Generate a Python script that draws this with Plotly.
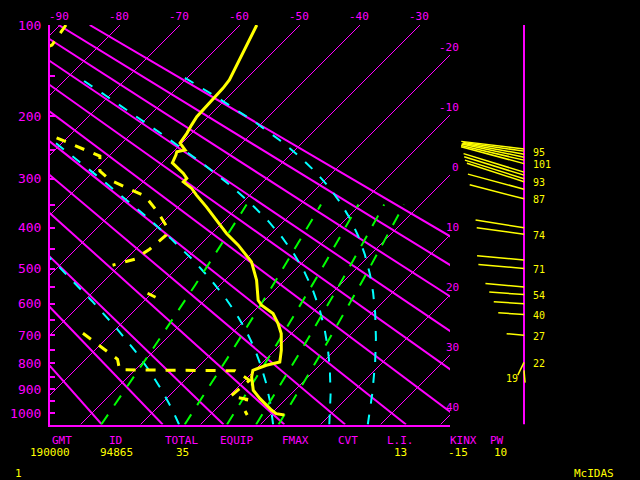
import numpy as np
import plotly.graph_objects as go

# ---------------- data ----------------
# Temperature sounding: pressure (hPa), temperature (degC)
T_P = [100, 111.6, 127.5, 141.3, 154.3, 164.0, 176.3, 187.9, 200.6, 212.3, 224.4, 239.3,
       250.4, 253.2, 258.6, 271.6, 278.5, 290.2, 299.3, 305.6, 318.1, 331.1, 354.8, 383.2,
       413.1, 440.8, 469.9, 482.7, 531.7, 589.2, 604.3, 629.8, 661.6, 694.6, 752.2, 794.6,
       806.8, 825.7, 851.3, 904.0, 938.1, 958.9, 987.5, 1001.9, 1008]
T_C = [-57.2, -56.1, -54.7, -53.6, -52.6, -52.3, -52.2, -52.1, -51.9, -51.4, -50.8, -50.3,
       -48.3, -49.4, -49.0, -48.3, -46.9, -44.7, -43.3, -43.3, -40.8, -38.9, -35.3, -31.4,
       -27.5, -23.6, -20.0, -18.6, -14.7, -11.1, -9.7, -6.4, -3.9, -1.7, 1.1, 2.8,
       1.1, -0.3, 0.6, 3.1, 5.6, 7.2, 9.5, 10.8, 12.4]

# Dewpoint sounding: pressure (hPa), dewpoint (degC); None = missing levels
TD_P = [100, 117.8, 178.5, 227.0, 260.3, 286.1, 302.4, 333.1, 365.9, 401.0, 417.1, 450.7,
        475.7, 491.3, None, 568.6, 580.3, None, 693.6, 752.2, 784.6, 823.7, 827.5, 864.2,
        928.5, 940.9, 987.5, 1008]
TD_C = [-89.0, -88.0, -100, -73.3, -61.5, -59.0, -55.8, -47.3, -42.5, -38.2, -37.3, -37.7,
        -38.5, -41.2, None, -30.7, -28.7, None, -34.8, -28.3, -24.7, -22.6, -3.2, 0.8,
        0.3, 3.5, 5.0, 6.2]

# Winds: pressure (hPa), direction (deg), speed (kt), printed speed label
WIND_P = [248.8, 252.1, 257.1, 262.2, 267.0, 273.0, 287.9, 293.3, 299.9, 305.5, 319.5, 338.5,
          400, 415.1, 477.5, 500, 550.5, 572.4, 600, 632.9, 700, 796, 826]
WIND_DIR = [277, 278, 280, 282, 283, 285, 287, 287, 287.5, 288, 285, 284.6,
            279, 278, 275, 275, 275, 274, 274, 274, 275, 206, 175]
WIND_SPD = [98, 95, 97, 99, 100, 101, 98, 97, 96, 93, 90, 87,
            76, 74, 73, 71, 60, 54, 47, 40, 27, 22, 19]
WIND_LABEL = ["", "95", "", "", "", "101", "", "", "", "93", "", "87",
              "", "74", "", "71", "", "54", "", "40", "27", "22", "19"]

# Background lines of the diagram
PRESSURE_LABELS = [100, 200, 300, 400, 500, 600, 700, 800, 900, 1000]
PRESSURE_MINOR = [150, 250, 350, 450, 550, 650, 750, 850, 950]
ISOTHERMS = list(range(-90, 41, 10))          # degC
DRY_ADIABATS = list(range(-30, 91, 10))       # potential temperature, degC
MOIST_ADIABATS_T1000 = [-6.3, 10.0, 19.7, 26.3]  # degC at 1000 hPa
MIXING_RATIOS = [1, 3, 5, 7, 9]               # g/kg

HEADER_LABELS = ["GMT", "ID", "TOTAL", "EQUIP", "FMAX", "CVT", "L.I.", "KINX", "PW"]
HEADER_VALUES = ["190000", "94865", "35", "", "", "", "13", "-15", "10"]
FOOTER_LEFT = "1"
FOOTER_RIGHT = "McIDAS"

# ---------------- geometry ----------------
W, H = 640, 480
L_PX, R_PX, T_PX, B_PX = 50.0, 450.0, 25.0, 424.5
P_TOP, P_BOT = 100.0, 1050.0
KAPPA = 0.2857
PX_PER_C = 6.0
X_LEFT = -60 - (240 - L_PX) / PX_PER_C
X_RIGHT = X_LEFT + (R_PX - L_PX) / PX_PER_C


def uu(p):
    return np.power(np.asarray(p, dtype=float), KAPPA)


U_TOP, U_BOT = float(uu(P_TOP)), float(uu(P_BOT))
PX_PER_U = (B_PX - T_PX) / (U_BOT - U_TOP)
SKEW = PX_PER_U / PX_PER_C


def skx(T, p):
    return np.asarray(T, dtype=float) - SKEW * (uu(p) - U_TOP)


def with_gaps(tlist, plist):
    xs, ys = [], []
    for t, p in zip(tlist, plist):
        if t is None or p is None:
            xs.append(None)
            ys.append(None)
        else:
            xs.append(float(skx(t, p)))
            ys.append(float(uu(p)))
    return xs, ys


MAG = "#ff00ff"
YEL = "#ffff00"
CYA = "#00ffff"
GRN = "#00ff00"
FONT = "DejaVu Sans Mono"

fig = go.Figure()


def add_line(x, y, color, width, dash="solid", xaxis="x"):
    fig.add_trace(go.Scatter(x=x, y=y, mode="lines", xaxis=xaxis, yaxis="y",
                             line=dict(color=color, width=width, dash=dash),
                             connectgaps=False, hoverinfo="skip", showlegend=False))


# isotherms
pp = np.array([P_TOP, P_BOT])
for t in ISOTHERMS:
    add_line(skx([t, t], pp), uu(pp), MAG, 1)

# dry adiabats
pg = np.linspace(P_TOP, P_BOT, 60)
for th in DRY_ADIABATS:
    T = (th + 273.15) * (pg / 1000.0) ** KAPPA - 273.15
    add_line(skx(T, pg), uu(pg), MAG, 2)

# moist adiabats
RD, CP, LV, EPS = 287.04, 1005.7, 2.501e6, 0.622


def es_hpa(tc):
    return 6.112 * np.exp(17.67 * tc / (tc + 243.5))


def dTdp(p, T):
    tc = T - 273.15
    es = es_hpa(tc)
    rs = EPS * es / (p - es)
    return (RD * T + LV * rs) / (CP + LV * LV * rs * EPS / (RD * T * T)) / p


def integrate(T0, p_from, p_to, n=300):
    ps = np.linspace(p_from, p_to, n)
    Ts = [T0]
    for i in range(n - 1):
        p, h = ps[i], ps[i + 1] - ps[i]
        T = Ts[-1]
        k1 = dTdp(p, T)
        k2 = dTdp(p + h / 2, T + h / 2 * k1)
        k3 = dTdp(p + h / 2, T + h / 2 * k2)
        k4 = dTdp(p + h, T + h * k3)
        Ts.append(T + h / 6 * (k1 + 2 * k2 + 2 * k3 + k4))
    return ps, np.array(Ts)


for t0 in MOIST_ADIABATS_T1000:
    p_up, T_up = integrate(t0 + 273.15, 1000.0, 150.0)
    p_dn, T_dn = integrate(t0 + 273.15, 1000.0, P_BOT, 20)
    ps = np.concatenate([p_dn[::-1], p_up[1:]])
    Ts = np.concatenate([T_dn[::-1], T_up[1:]]) - 273.15
    add_line(skx(Ts, ps), uu(ps), CYA, 2, dash="10px,11px")

# mixing-ratio lines
pm = np.linspace(P_BOT, 350, 80)
for w in MIXING_RATIOS:
    e = w * pm / (622.0 + w)
    lg = np.log(e / 6.112)
    td = 243.5 * lg / (17.67 - lg)
    add_line(skx(td, pm), uu(pm), GRN, 2, dash="12px,11px")

# sounding
tdx, tdy = with_gaps(TD_C, TD_P)
add_line(tdx, tdy, YEL, 3, dash="10px,10px")
add_line(skx(T_C, T_P), uu(T_P), YEL, 3)

# ---------------- wind panel ----------------
KT_PX = 0.645
WAX_PX = 524.0
X2_L, X2_R = 455.0, 640.0
x2_range = [-(WAX_PX - X2_L) / KT_PX, (X2_R - WAX_PX) / KT_PX]
add_line([0, 0], [U_TOP, U_BOT], MAG, 2, xaxis="x2")
wx, wy = [], []
for p, d, s in zip(WIND_P, WIND_DIR, WIND_SPD):
    y0 = float(uu(p))
    dx = s * np.sin(np.radians(d))
    dy = -s * np.cos(np.radians(d)) * KT_PX / PX_PER_U
    wx += [0, dx, None]
    wy += [y0, y0 + dy, None]
add_line(wx, wy, YEL, 1.5, xaxis="x2")

ann = []
for p, lab, d in zip(WIND_P, WIND_LABEL, WIND_DIR):
    if not lab:
        continue
    if 150 < d < 200:
        ann.append(dict(x=0, y=float(uu(p)), xref="x2", yref="y", text=lab, showarrow=False,
                        xanchor="right", yanchor="middle", xshift=-4, yshift=-8,
                        font=dict(family=FONT, size=10, color=YEL)))
    else:
        ann.append(dict(x=0, y=float(uu(p)), xref="x2", yref="y", text=lab, showarrow=False,
                        xanchor="left", yanchor="middle", xshift=7, yshift=-1,
                        font=dict(family=FONT, size=10, color=YEL)))

# isotherm labels
for t in ISOTHERMS:
    if t <= -30:
        ann.append(dict(x=t, y=U_TOP, xref="x", yref="y", text=str(t), showarrow=False,
                        xanchor="center", yanchor="middle", yshift=9, xshift=-1,
                        font=dict(family=FONT, size=11, color=MAG)))
    else:
        u_edge = U_TOP + (t - X_RIGHT) / SKEW
        ann.append(dict(x=X_RIGHT, y=u_edge, xref="x", yref="y", text=str(t), showarrow=False,
                        xanchor="right", yanchor="middle", xshift=11, yshift=8,
                        font=dict(family=FONT, size=11, color=MAG)))

# header / footer
HDR_X = [62, 115, 181, 236, 295, 348, 400, 463, 497]
VAL_X = [50, 116, 182, 0, 0, 0, 400, 458, 500]
for lab, xl in zip(HEADER_LABELS, HDR_X):
    ann.append(dict(x=xl / W, y=1 - 440 / H, xref="paper", yref="paper", text=lab,
                    showarrow=False, xanchor="center", yanchor="middle",
                    font=dict(family=FONT, size=11, color=MAG)))
for val, xv in zip(HEADER_VALUES, VAL_X):
    if val:
        ann.append(dict(x=xv / W, y=1 - 452 / H, xref="paper", yref="paper", text=val,
                        showarrow=False, xanchor="center", yanchor="middle",
                        font=dict(family=FONT, size=11, color=YEL)))
ann.append(dict(x=18 / W, y=1 - 473 / H, xref="paper", yref="paper", text=FOOTER_LEFT,
                showarrow=False, xanchor="center", yanchor="middle",
                font=dict(family=FONT, size=11, color=YEL)))
ann.append(dict(x=594 / W, y=1 - 473 / H, xref="paper", yref="paper", text=FOOTER_RIGHT,
                showarrow=False, xanchor="center", yanchor="middle",
                font=dict(family=FONT, size=11, color=YEL)))

fig.update_layout(
    width=W, height=H, autosize=False,
    margin=dict(l=0, r=0, t=0, b=0, pad=0, autoexpand=False),
    paper_bgcolor="black", plot_bgcolor="black",
    showlegend=False,
    annotations=ann,
    xaxis=dict(domain=[L_PX / W, R_PX / W], range=[X_LEFT, X_RIGHT], anchor="y",
               automargin=False,
               showgrid=False, zeroline=False, showticklabels=False, ticks="",
               showline=True, linecolor=MAG, linewidth=2, fixedrange=True),
    xaxis2=dict(domain=[X2_L / W, X2_R / W], range=x2_range, anchor="y",
                automargin=False, visible=False, fixedrange=True),
    yaxis=dict(domain=[1 - B_PX / H, 1 - T_PX / H], range=[U_BOT, U_TOP], anchor="x",
               automargin=False,
               showgrid=False, zeroline=False, showline=True, linecolor=MAG, linewidth=2,
               tickmode="array", tickvals=[float(uu(p)) for p in PRESSURE_LABELS],
               ticktext=[str(p) for p in PRESSURE_LABELS],
               ticks="inside", ticklen=5, tickwidth=2, tickcolor=MAG,
               ticklabelstandoff=4,
               tickfont=dict(family=FONT, size=13, color=MAG),
               minor=dict(tickmode="array", tickvals=[float(uu(p)) for p in PRESSURE_MINOR],
                          ticks="inside", ticklen=5, tickwidth=2, tickcolor=MAG),
               fixedrange=True),
)

fig.write_html(
    "out.html",
    config={"displayModeBar": False, "staticPlot": True},
    post_script="document.body.style.margin='0px';document.body.style.padding='0px';"
                "document.body.style.overflow='hidden';document.body.style.background='black';",
)
